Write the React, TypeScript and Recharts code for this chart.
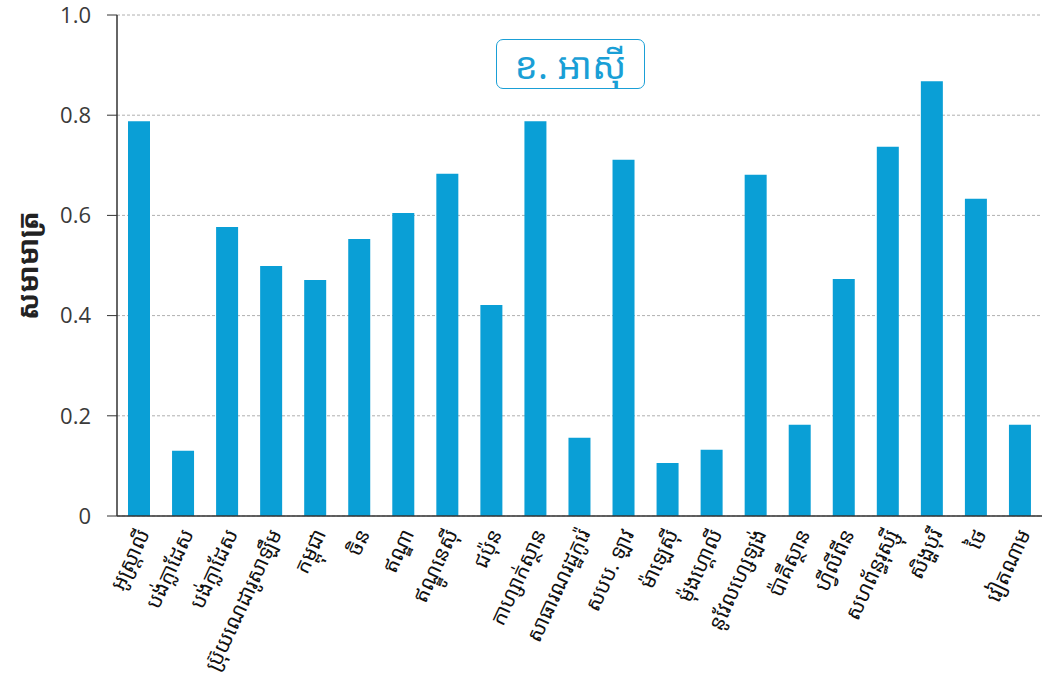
import { BarChart, Bar, XAxis, YAxis, CartesianGrid } from "recharts";

if (typeof document !== "undefined") {
  document.body.style.margin = "0";
}

const countries = [
  "អូស្ត្រាលី",
  "បង់ក្លាដែស",
  "បង់ក្លាដែស",
  "ប្រ៊ុយណេដារូសាឡឹម",
  "កម្ពុជា",
  "ចិន",
  "ឥណ្ឌា",
  "ឥណ្ឌូនេស៊ី",
  "ជប៉ុន",
  "កាហ្សាក់ស្ថាន",
  "សាធារណរដ្ឋកូរ៉េ",
  "សបប. ឡាវ",
  "ម៉ាឡេស៊ី",
  "ម៉ុងហ្គោលី",
  "នូវែលហ្សេឡង់",
  "ប៉ាគីស្ថាន",
  "ហ្វីលីពីន",
  "សហព័ន្ធរុស្ស៊ី",
  "សិង្ហបុរី",
  "ថៃ",
  "វៀតណាម",
];

const ratios = [
  0.788, 0.13, 0.577, 0.499, 0.471, 0.553, 0.605, 0.683, 0.421, 0.788, 0.156,
  0.711, 0.106, 0.132, 0.681, 0.182, 0.473, 0.737, 0.868, 0.633, 0.182,
];

const yTicks = [0, 0.2, 0.4, 0.6, 0.8, 1.0];

const data = countries.map((name, i) => ({ name, ratio: ratios[i] }));

const KHMER = "'Noto Sans Khmer', 'Khmer OS', 'DejaVu Sans', sans-serif";

const XTick = (props: any) => {
  const { x, y, payload } = props;
  return (
    <g transform={`translate(${x + 4},${y + 6})`}>
      <text
        transform="rotate(-65)"
        textAnchor="end"
        dy={8}
        fontSize={21}
        fill="#111"
        fontFamily={KHMER}
      >
        {payload.value}
      </text>
    </g>
  );
};

export default function App() {
  return (
    <div style={{ position: "relative", width: 1050, height: 683, background: "#fff" }}>
      <BarChart
        width={1050}
        height={683}
        data={data}
        margin={{ top: 15, right: 8, left: 0, bottom: 7 }}
      >
        <CartesianGrid vertical={false} strokeDasharray="3 2" stroke="#b0b0b0" />
        <XAxis
          dataKey="name"
          interval={0}
          height={160}
          tick={XTick}
          tickLine={false}
          axisLine={{ stroke: "#333", strokeWidth: 1.5 }}
        />
        <YAxis
          domain={[0, 1]}
          ticks={yTicks}
          width={117}
          tickFormatter={(v: number) => (v === 0 ? "0" : v.toFixed(1))}
          tick={{ fontSize: 22, fill: "#3a3a3a", fontFamily: "'Open Sans', sans-serif", dx: -14 }}
          tickSize={10}
          tickLine={{ stroke: "#333" }}
          axisLine={{ stroke: "#333", strokeWidth: 1.5 }}
          label={{
            value: "សមាមាត្រ",
            angle: -90,
            position: "insideLeft",
            offset: 28,
            style: {
              fontSize: 28,
              fontWeight: "bold",
              fill: "#222",
              textAnchor: "middle",
              fontFamily: KHMER,
            },
          }}
        />
        <Bar dataKey="ratio" fill="#0a9fd6" barSize={22} isAnimationActive={false} />
      </BarChart>
      <div
        style={{
          position: "absolute",
          left: 496,
          top: 39,
          width: 149,
          height: 50,
          border: "1.5px solid #1a9fd6",
          borderRadius: 7,
          background: "#fff",
          color: "#1a9fd6",
          fontSize: 37,
          fontFamily: KHMER,
          display: "flex",
          alignItems: "center",
          justifyContent: "center",
          boxSizing: "border-box",
        }}
      >
        ខ. អាស៊ី
      </div>
    </div>
  );
}
